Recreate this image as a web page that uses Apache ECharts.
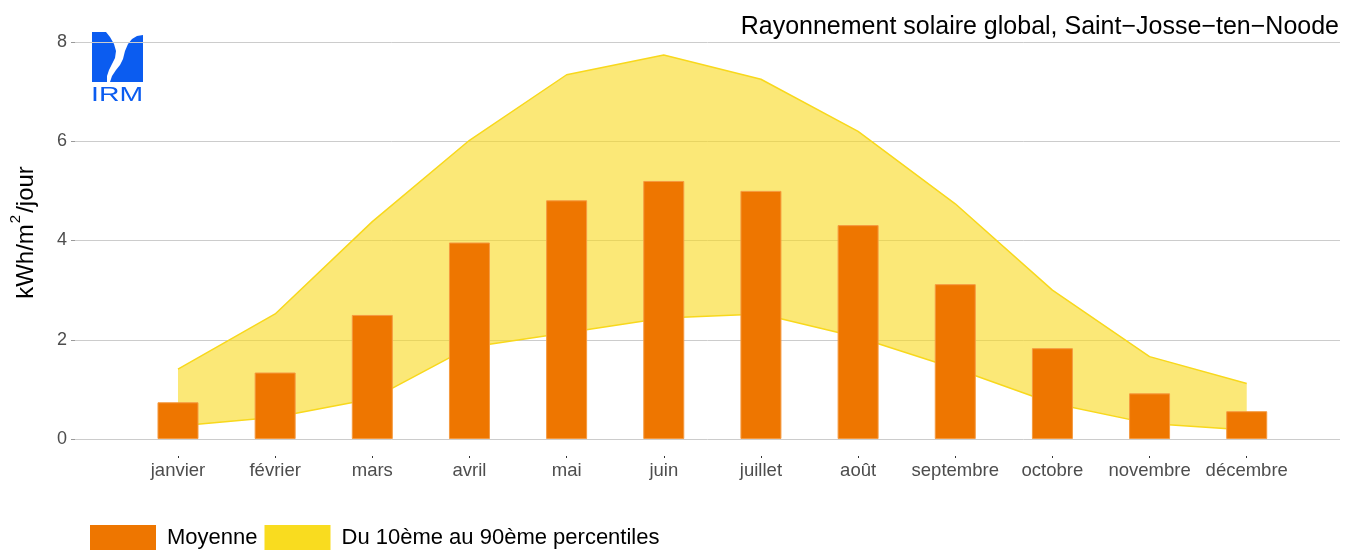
<!DOCTYPE html>
<html>
<head>
<meta charset="utf-8">
<script src="https://cdn.jsdelivr.net/npm/echarts@6/dist/echarts.min.js"></script>
<style>
html,body{margin:0;padding:0;background:#fff;}
#chart{width:1347px;height:550px;}
</style>
</head>
<body>
<div id="chart"></div>
<script>
// ---- data ----
const months = ['janvier','février','mars','avril','mai','juin','juillet','août','septembre','octobre','novembre','décembre'];
const moyenne = [0.74, 1.34, 2.50, 3.96, 4.81, 5.20, 5.00, 4.31, 3.12, 1.83, 0.92, 0.56];
const p90 = [1.41, 2.52, 4.38, 6.02, 7.34, 7.74, 7.25, 6.20, 4.74, 3.00, 1.66, 1.12];
const p10 = [0.26, 0.44, 0.81, 1.85, 2.14, 2.44, 2.52, 2.05, 1.42, 0.72, 0.31, 0.18];
const yTicks = [0, 2, 4, 6, 8];
const titleText = 'Rayonnement solaire global, Saint\u2212Josse\u2212ten\u2212Noode';
const nameMoy = 'Moyenne';
const namePct = 'Du 10ème au 90ème percentiles';

// ---- styles ----
const FONT = 'Liberation Sans, Arial, sans-serif';
const ORANGE = '#EE7600';
const GOLD = '#F8D81C';
const LOGO = '#0B5CF0';
const monthIdx = months.map((m, i) => i);
const xMin = -1.06, xMax = 11.96;

const chart = echarts.init(document.getElementById('chart'), null, {renderer: 'canvas'});
chart.setOption({
  animation: false,
  backgroundColor: '#ffffff',
  textStyle: {fontFamily: FONT},
  title: {
    text: titleText,
    right: 3, top: 10,
    textStyle: {fontFamily: FONT, fontSize: 25, fontWeight: 'normal', color: '#000'}
  },
  grid: {left: 75, right: 7, top: 42, bottom: 111, containLabel: false, outerBoundsMode: 'none'},
  legend: {
    left: 85, top: 520,
    itemWidth: 66, itemHeight: 26, itemGap: 7,
    selectedMode: false,
    textStyle: {fontFamily: FONT, fontSize: 22, color: '#000', padding: [0, 0, 0, 6]},
    data: [
      {name: nameMoy, icon: 'rect', itemStyle: {color: ORANGE, borderWidth: 0}},
      {name: namePct, icon: 'rect', itemStyle: {color: '#F9DC1F', borderWidth: 0}}
    ]
  },
  xAxis: [
    {
      type: 'value', min: xMin, max: xMax,
      axisLine: {show: false, onZero: false}, axisTick: {show: false}, axisLabel: {show: false},
      splitLine: {show: false}
    },
    {
      type: 'value', min: xMin, max: xMax, position: 'bottom', offset: 17,
      axisLine: {show: false, onZero: false},
      axisTick: {show: true, length: 2, lineStyle: {color: '#333'}, customValues: monthIdx},
      axisLabel: {
        show: true, customValues: monthIdx, margin: 5,
        fontFamily: FONT, fontSize: 18.5, color: '#4D4D4D',
        formatter: v => months[Math.round(v)] || ''
      },
      splitLine: {show: false}
    }
  ],
  yAxis: {
    type: 'value', min: 0, max: 8, interval: 2,
    name: '{a|kWh/m}{s|2}{a|/jour}', nameLocation: 'middle', nameGap: 37, nameRotate: 90,
    nameTextStyle: {
      fontFamily: FONT, fontSize: 24, color: '#000', padding: [0, 0, 0, 16],
      rich: {
        a: {fontFamily: FONT, fontSize: 24, color: '#000', lineHeight: 30, verticalAlign: 'bottom'},
        s: {fontFamily: FONT, fontSize: 15, color: '#000', lineHeight: 30, verticalAlign: 'top', padding: [0, 2, 0, 1]}
      }
    },
    axisLine: {show: false, onZero: false},
    axisTick: {show: true, length: 4, lineStyle: {color: '#999'}},
    axisLabel: {fontFamily: FONT, fontSize: 18, color: '#4D4D4D', margin: 8,
      formatter: v => (yTicks.indexOf(v) >= 0 ? String(v) : '')},
    splitLine: {show: true, lineStyle: {color: '#CCCCCC', width: 1}}
  },
  graphic: [
    {type: 'polygon', shape: {points: [[92,32],[106,32],[110,37],[114,44],[116,51],[115,58],[112,64],[109,70],[107,76],[107,82],[92,82]]}, style: {fill: LOGO}},
    {type: 'polygon', shape: {points: [[143,35],[143,82],[110,82],[112,76],[116,70],[120,65],[123,59],[125,51],[128,44],[132,39],[137,36]]}, style: {fill: LOGO}},
    {type: 'text', x: 91, y: 85, scaleX: 1.42, style: {text: 'IRM', fill: LOGO, font: '20px Liberation Sans'}}
  ],
  series: [
    {
      name: namePct, type: 'custom', silent: true, z: 1,
      data: monthIdx.map(i => [i, p10[i], p90[i]]),
      renderItem: function (params, api) {
        if (params.dataIndex !== 0) return null;
        const pts = [];
        for (let i = 0; i < p90.length; i++) pts.push(api.coord([i, p90[i]]));
        for (let i = p10.length - 1; i >= 0; i--) pts.push(api.coord([i, p10[i]]));
        return {type: 'polygon', shape: {points: pts}, style: {fill: GOLD, opacity: 0.6}};
      }
    },
    {
      name: 'p10', type: 'line', symbol: 'none', silent: true,
      data: p10.map((v, i) => [i, v]),
      lineStyle: {color: GOLD, width: 1.5}, z: 2
    },
    {
      name: 'p90', type: 'line', symbol: 'none', silent: true,
      data: p90.map((v, i) => [i, v]),
      lineStyle: {color: GOLD, width: 1.5}, z: 2
    },
    {
      name: nameMoy, type: 'bar', barWidth: 41, silent: true,
      data: moyenne.map((v, i) => [i, v]),
      itemStyle: {color: ORANGE, borderColor: '#F59A40', borderWidth: 1}, z: 3
    }
  ]
});
</script>
</body>
</html>
